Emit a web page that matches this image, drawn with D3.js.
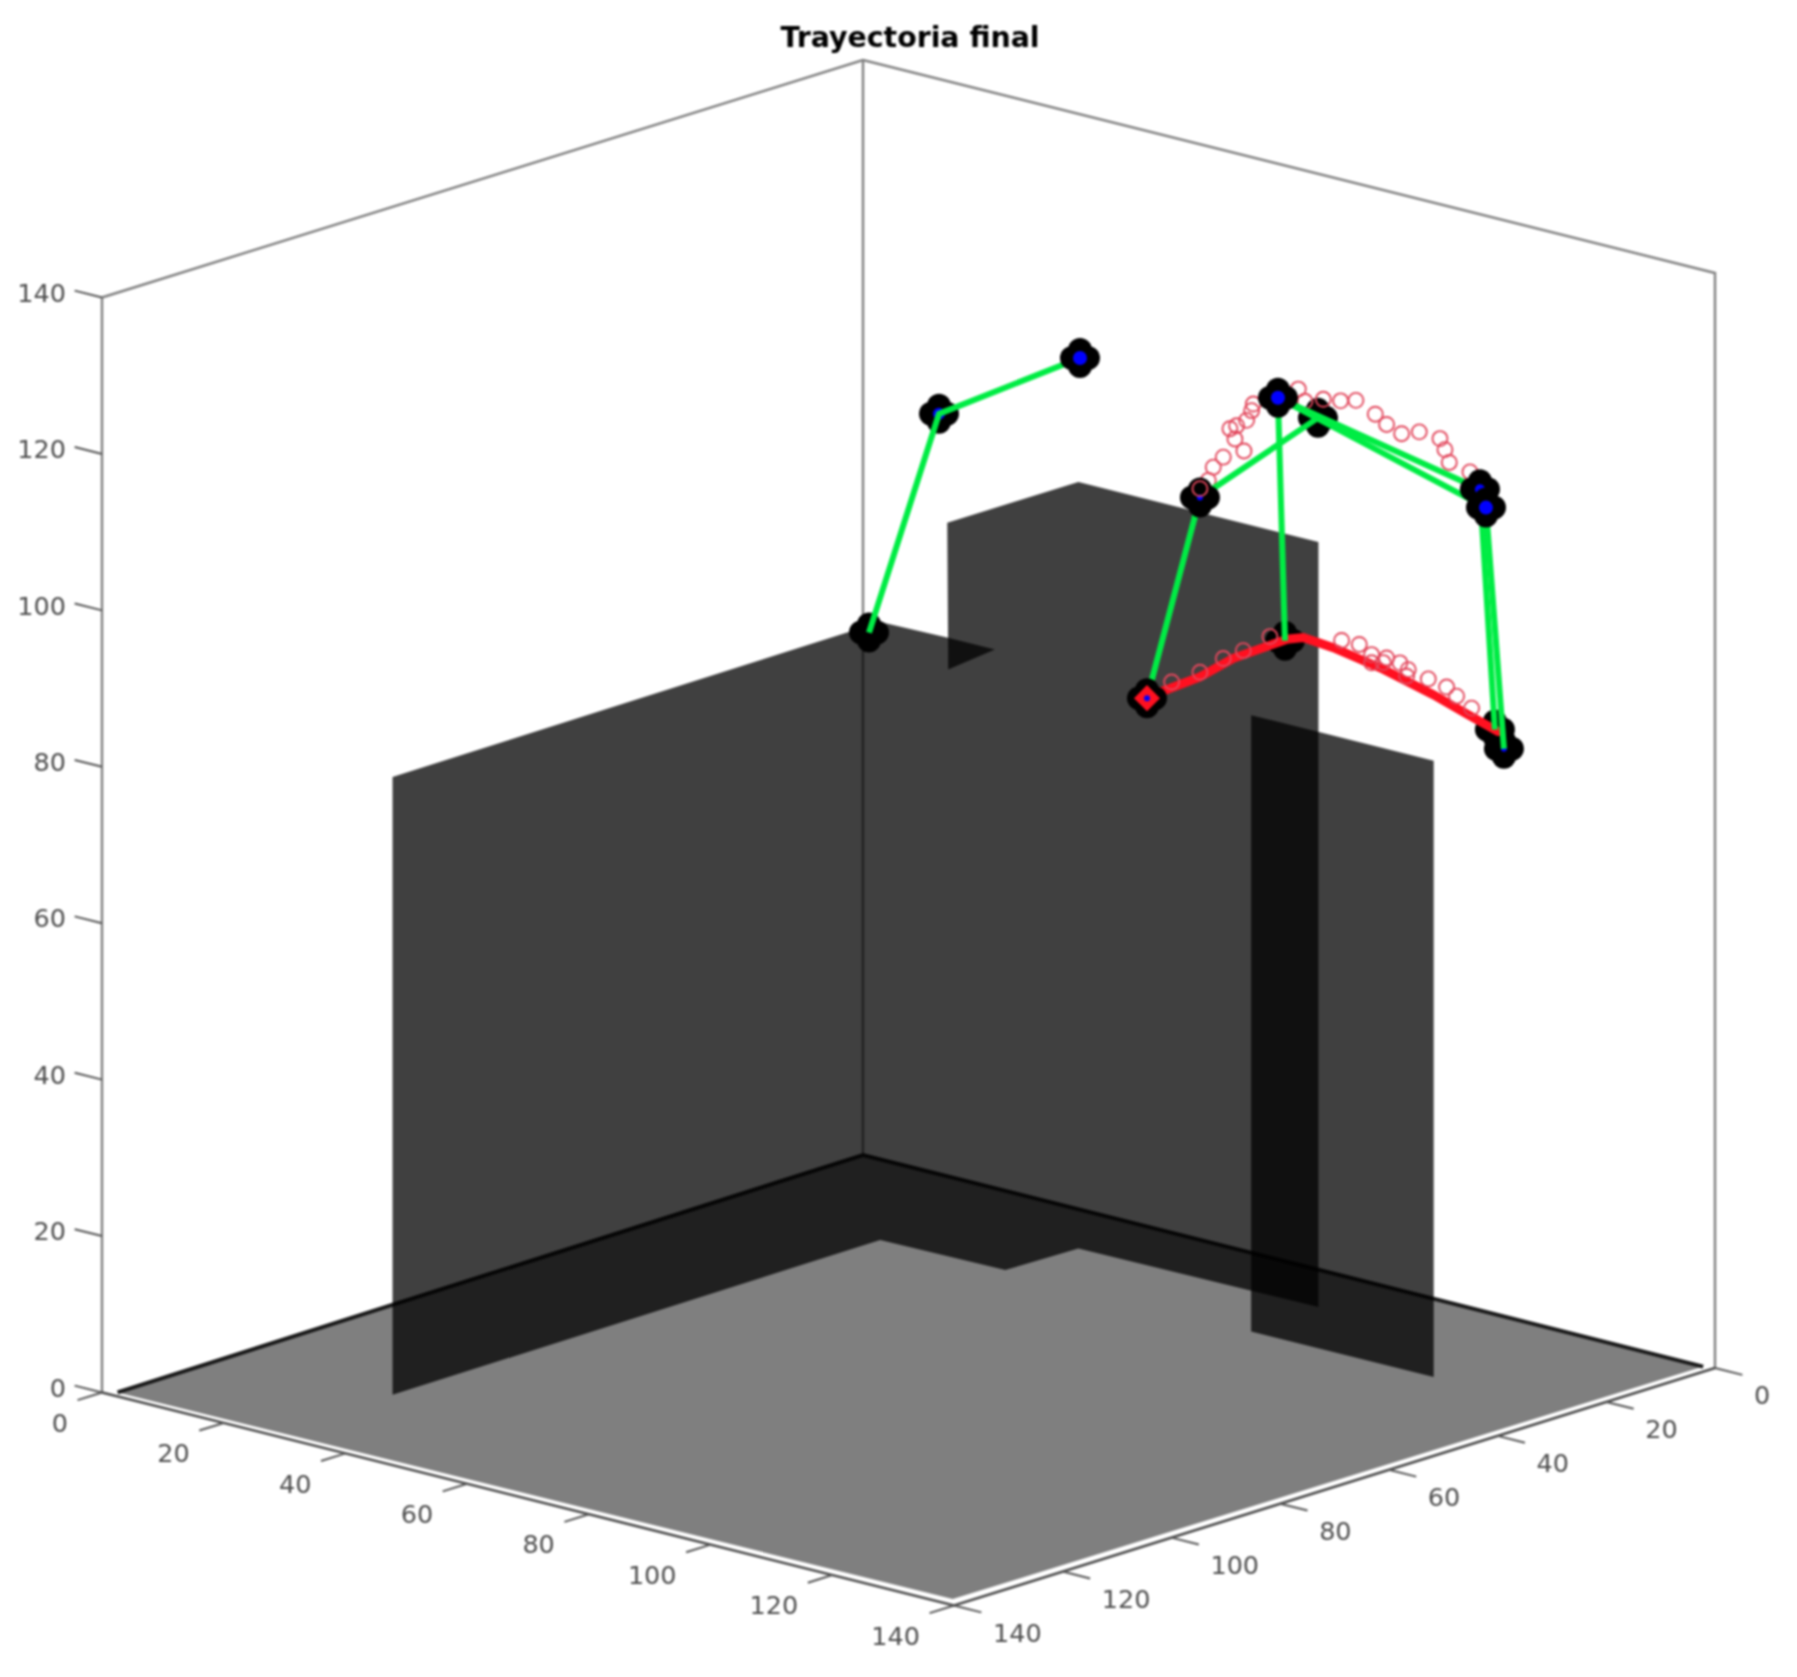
<!DOCTYPE html>
<html>
<head>
<meta charset="utf-8">
<script src="https://cdn.jsdelivr.net/npm/d3@7"></script>
<style>
  body { margin: 0; background: #fff; }
  svg { display: block; filter: blur(0.85px); }
  text { font-family: "DejaVu Sans", sans-serif; }
</style>
</head>
<body>
<div id="chart"></div>
<script>
const tickValues = [0, 20, 40, 60, 80, 100, 120, 140];

// floor and walls, each corner as x, y, z
const floorCorners = [[0, 0, 0], [138.5, 0.5, 0], [138, 138, 0], [1.4, 138.7, 0]];
const bigWall = [
  [27.2, 117, 0], [27.2, 117, 79], [26.4, 26.4, 79], [37.2, 26, 79],
  [46, 36, 97.6], [47, 13, 98], [86, 12.5, 97.8], [86, 12.5, 0],
  [47, 13, 0], [46.6, 26, 0], [26.4, 26.4, 0]
];
const overlapWall = [[37.2, 26, 79], [44.9, 26, 79], [44.9, 34.6, 78.3]];
const sideWall = [[87, 26, 0], [87, 26, 78.8], [117, 26, 78.8], [117, 26, 0]];

// everything on the trajectory is read at the same depth
const trajectoryY = 20;

const jointX = [18.85, 30.35, 53.52, 86.05, 92.62, 73.23, 64.53, 87.2, 119.24, 120.23, 121.7, 123.18];
const jointZ = [74.8, 105, 116.65, 117.9, 116.6, 102.65, 75.3, 87.05, 112.65, 110.5, 82.4, 80.25];
const jointBlue = [0, 6, 7, 7, 0, 3, 3, 3, 5, 7, 2, 3];
const jointsOnTop = [2, 3, 5, 6, 8, 9];

// links between joints, as indexes in the joint arrays
const links = [[0, 1, 2], [6, 5, 4], [7, 3, 8, 10], [11, 9, 3]];

const circleX = [74.6, 75.42, 77.06, 80.46, 78.98, 78.16, 79.26, 80.9, 81.72, 82, 89.39, 90.48, 93.5, 96.34, 98.86,
  102.04, 103.9, 106.37, 109.27, 112.67, 113.49, 114.2, 117.6,
  84.73, 80.35, 77.06, 73.23, 68.58, 96.51, 99.41, 101.44, 101.44, 103.35, 103.9, 106.09, 107.46, 107.19, 110.75, 113.76, 115.4, 117.87];
const circleZ = [105.1, 106.95, 108.55, 110, 111.25, 112.4, 113, 114, 115.4, 116.3, 119.65, 118.3, 119.15, 119.5, 120.05,
  118.9, 117.95, 117.25, 118.05, 117.85, 116.6, 115.1, 114.55,
  87.1, 84.45, 82.8, 80.3, 78.15, 88.9, 88.95, 88.05, 87, 87.4, 88.1, 87.9, 87.3, 86.4, 86.75, 86.3, 85.45, 84.4];
const circleOverJointX = [73.23];
const circleOverJointZ = [103.78];

const redLeftX = [66.11, 73.23, 78.71, 87.2];
const redLeftZ = [76.2, 79.7, 83.15, 87.15];
const redRightX = [87.47, 90.21, 95.14, 103.35, 111.57, 117.05, 122.25];
const redRightZ = [87.3, 88.05, 87.7, 86.55, 84.9, 83.5, 82.25];

const width = 1797;
const height = 1677;
const origin = [863, 1155];

const xToLeft = d3.scaleLinear().domain([0, 140]).range([0, 852]);
const xToDown = d3.scaleLinear().domain([0, 140]).range([0, 213]);
const yToLeft = d3.scaleLinear().domain([0, 140]).range([0, 761]);
const yToDown = d3.scaleLinear().domain([0, 140]).range([0, 237.5]);
const zToUp = d3.scaleLinear().domain([0, 140]).range([0, 1095]);

const project = ([x, y, z]) => [
  origin[0] + xToLeft(x) - yToLeft(y),
  origin[1] + xToDown(x) + yToDown(y) - zToUp(z)
];

const path3d = d3.line().x(d => project(d)[0]).y(d => project(d)[1]);
const zipTrajectory = (xs, zs) => xs.map((x, i) => [x, trajectoryY, zs[i]]);

const svg = d3.select('#chart')
  .append('svg')
  .attr('width', width)
  .attr('height', height);

// box lines
const boxLines = [
  [[0, 140, 0], [0, 140, 140], [0, 0, 140], [140, 0, 140], [140, 0, 0]],
  [[0, 0, 0], [0, 0, 140]]
];
svg.selectAll('.box')
  .data(boxLines)
  .enter()
  .append('path')
  .attr('class', 'box')
  .attr('d', path3d)
  .attr('fill', 'none')
  .attr('stroke', '#808080')
  .attr('stroke-width', 2.4);

svg.append('path')
  .attr('d', path3d([[0, 140, 0], [140, 140, 0], [140, 0, 0]]))
  .attr('fill', 'none')
  .attr('stroke', '#4a4a4a')
  .attr('stroke-width', 2.6);

// ticks
const tickLen = 4.5;
const ticks = [
  ...tickValues.map(t => [[t, 140, 0], [t, 140 + tickLen, 0]]),
  ...tickValues.map(t => [[140, t, 0], [140 + tickLen, t, 0]]),
  ...tickValues.map(t => [[0, 140, t], [-tickLen, 140, t]])
];
svg.selectAll('.tick')
  .data(ticks)
  .enter()
  .append('path')
  .attr('class', 'tick')
  .attr('d', path3d)
  .attr('stroke', '#555')
  .attr('stroke-width', 2);

const tickLabel = (sel, at, anchor, dx, dy) => sel
  .append('text')
  .attr('x', t => project(at(t))[0] + dx)
  .attr('y', t => project(at(t))[1] + dy)
  .attr('dy', '0.36em')
  .attr('text-anchor', anchor)
  .attr('font-size', '25.5px')
  .attr('fill', '#4d4d4d')
  .text(t => t);

const labels = svg.append('g');
tickLabel(labels.selectAll('.lx').data(tickValues).enter(), t => [t, 140, 0], 'end', -34, 30);
tickLabel(labels.selectAll('.ly').data(tickValues).enter(), t => [140, t, 0], 'start', 39, 27);
tickLabel(labels.selectAll('.lz').data(tickValues).enter(), t => [0, 140, t], 'end', -36, -5);

svg.append('text')
  .attr('x', 910)
  .attr('y', 37)
  .attr('dy', '0.36em')
  .attr('text-anchor', 'middle')
  .attr('font-size', '28.4px')
  .attr('font-weight', 'bold')
  .attr('fill', '#000')
  .text('Trayectoria final');

// floor
svg.append('path')
  .attr('d', path3d(floorCorners) + 'Z')
  .attr('fill', '#000')
  .attr('fill-opacity', 0.5);

svg.append('path')
  .attr('d', path3d([floorCorners[3], floorCorners[0], floorCorners[1]]))
  .attr('fill', 'none')
  .attr('stroke', '#1a1a1a')
  .attr('stroke-width', 4);

// walls
svg.selectAll('.wall')
  .data([bigWall, overlapWall, sideWall])
  .enter()
  .append('path')
  .attr('class', 'wall')
  .attr('d', d => path3d(d) + 'Z')
  .attr('fill', '#000')
  .attr('fill-opacity', 0.75);

// joint markers are four black lobes with a blue centre
const jointPos = i => project([jointX[i], trajectoryY, jointZ[i]]);

const drawJoint = (i) => {
  const [px, py] = jointPos(i);
  const g = svg.append('g').attr('transform', `translate(${px},${py})`);
  g.selectAll('circle')
    .data([[-8, 0], [8, 0], [0, -8], [0, 8], [0, 0]])
    .enter()
    .append('circle')
    .attr('cx', d => d[0])
    .attr('cy', d => d[1])
    .attr('r', (d, k) => (k === 4 ? 14 : 12))
    .attr('fill', '#000');
  if (jointBlue[i] > 0) {
    g.append('circle').attr('r', jointBlue[i]).attr('fill', '#0000ff');
  }
};

const jointIndexes = d3.range(jointX.length);
jointIndexes.filter(i => !jointsOnTop.includes(i)).forEach(drawJoint);

// red end effector path
const redPaths = [zipTrajectory(redLeftX, redLeftZ), zipTrajectory(redRightX, redRightZ)];
svg.selectAll('.red')
  .data(redPaths)
  .enter()
  .append('path')
  .attr('class', 'red')
  .attr('d', path3d)
  .attr('fill', 'none')
  .attr('stroke', '#ff1020')
  .attr('stroke-width', 9)
  .attr('stroke-linecap', 'round');

const drawCircles = (xs, zs) => {
  svg.append('g')
    .selectAll('circle')
    .data(zipTrajectory(xs, zs))
    .enter()
    .append('circle')
    .attr('cx', d => project(d)[0])
    .attr('cy', d => project(d)[1])
    .attr('r', 7.5)
    .attr('fill', 'none')
    .attr('stroke', '#e2475c')
    .attr('stroke-width', 1.9);
};
drawCircles(circleX, circleZ);

// green links
svg.selectAll('.link')
  .data(links)
  .enter()
  .append('path')
  .attr('class', 'link')
  .attr('d', d => d3.line()(d.map(jointPos)))
  .attr('fill', 'none')
  .attr('stroke', '#00ec44')
  .attr('stroke-width', 6);

jointsOnTop.forEach(drawJoint);
drawCircles(circleOverJointX, circleOverJointZ);

// start marker
const start = jointPos(6);
svg.append('path')
  .attr('d', d3.symbol(d3.symbolSquare, 340)())
  .attr('transform', `translate(${start[0]},${start[1]}) rotate(45)`)
  .attr('fill', '#ff1020');
svg.append('circle')
  .attr('cx', start[0])
  .attr('cy', start[1])
  .attr('r', 3)
  .attr('fill', '#0000ff');
</script>
</body>
</html>
